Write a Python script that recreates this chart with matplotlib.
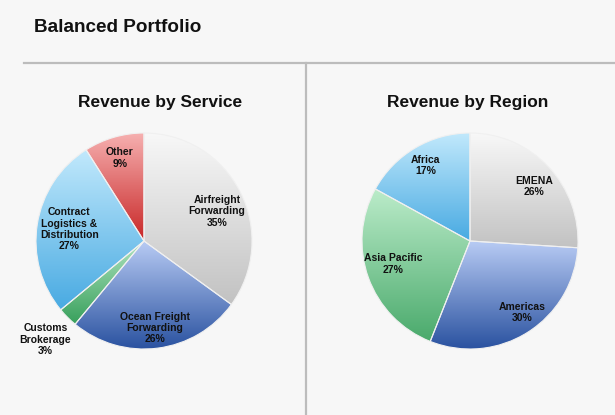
import numpy as np
import matplotlib.pyplot as plt
from matplotlib.colors import LinearSegmentedColormap

plt.rcParams['font.family'] = ['Liberation Sans', 'DejaVu Sans']

service_labels = ["Airfreight\nForwarding", "Ocean Freight\nForwarding", "Customs\nBrokerage",
                  "Contract\nLogistics &\nDistribution", "Other"]
service_values = [35, 26, 3, 27, 9]
service_colors = [("#f8f8f8", "#c2c2c2"), ("#b8cbf4", "#2a52a0"), ("#b0e4c0", "#38a05c"),
                  ("#c2e9fc", "#48aae2"), ("#f6b0b0", "#c82626")]
# label placement: radius fraction, angle shift (deg)
service_lab_r = [0.73, 0.81, 1.29, 0.70, 0.80]
service_lab_da = [-5, 0, 0, 0, 0]

region_labels = ["EMENA", "Americas", "Asia Pacific", "Africa"]
region_values = [26, 30, 27, 17]
region_colors = [("#f8f8f8", "#c2c2c2"), ("#b8cbf4", "#2a52a0"), ("#bcecca", "#4aaa6c"),
                 ("#c2e9fc", "#48aae2")]
region_lab_r = [0.78, 0.82, 0.74, 0.81]
region_lab_da = [-3, 4, -3, 0]

bg = "#f7f7f7"
W, H = 615, 415
fig = plt.figure(figsize=(W / 100, H / 100), dpi=100, facecolor=bg)

R_PX = 108
BOX = 300
HALF = BOX / 2 / R_PX


def pie_axes(cx, cy):
    ax = fig.add_axes([(cx - BOX / 2) / W, (H - cy - BOX / 2) / H, BOX / W, BOX / H])
    ax.axis("off")
    return ax


def draw_pie(ax, values, labels, colors, lab_r, lab_da):
    wedges, _ = ax.pie(values, startangle=90, counterclock=False, radius=1,
                       wedgeprops=dict(linewidth=0.8, edgecolor="#f0f0f0"))
    grad = np.linspace(0, 1, 256).reshape(-1, 1)
    for w, (c1, c2), lab, v, r, da in zip(wedges, colors, labels, values, lab_r, lab_da):
        cmap = LinearSegmentedColormap.from_list("g", [c1, c2])
        w.set_facecolor("none")
        bb = w.get_path().get_extents()
        im = ax.imshow(grad, cmap=cmap, extent=[bb.x0, bb.x1, bb.y0, bb.y1],
                       origin="upper", aspect="auto", zorder=0.5)
        im.set_clip_path(w)
        mid = np.deg2rad((w.theta1 + w.theta2) / 2 + da)
        ax.text(r * np.cos(mid), r * np.sin(mid), f"{lab}\n{v}%", ha="center", va="center",
                fontsize=7.5, fontweight="bold", color="#111111", linespacing=1.15)
    ax.set_xlim(-HALF, HALF)
    ax.set_ylim(-HALF, HALF)
    ax.set_aspect("equal")


ax1 = pie_axes(144, 241)
draw_pie(ax1, service_values, service_labels, service_colors, service_lab_r, service_lab_da)
ax2 = pie_axes(470, 241)
draw_pie(ax2, region_values, region_labels, region_colors, region_lab_r, region_lab_da)

# frame lines
fig.add_artist(plt.Line2D([24 / W, 1], [1 - 63 / H, 1 - 63 / H], color="#bcbcbc", lw=1.6))
fig.add_artist(plt.Line2D([306 / W, 306 / W], [0, 1 - 63 / H], color="#bcbcbc", lw=1.6))

fig.text(34 / W, 1 - 27 / H, "Balanced Portfolio", fontsize=13.6, fontweight="bold",
         ha="left", va="center", color="#111111")
fig.text(160 / W, 1 - 102 / H, "Revenue by Service", fontsize=12.5, fontweight="bold",
         ha="center", va="center", color="#111111")
fig.text(468 / W, 1 - 102 / H, "Revenue by Region", fontsize=12.5, fontweight="bold",
         ha="center", va="center", color="#111111")

fig.savefig("out.png", dpi=100, facecolor=bg)
